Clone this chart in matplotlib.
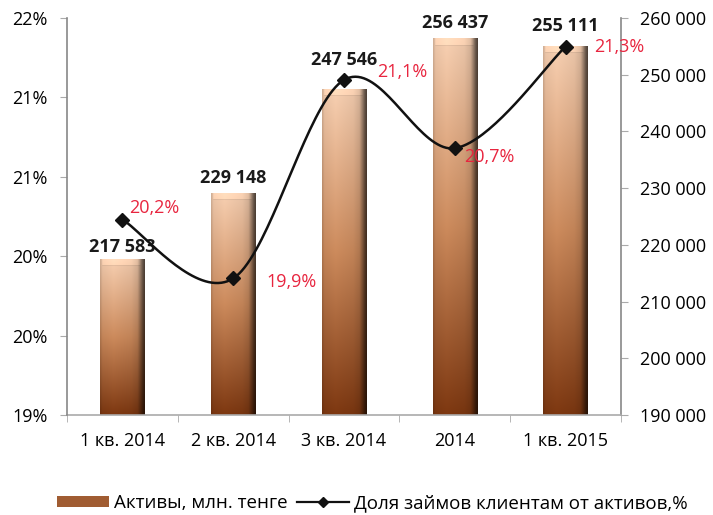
import numpy as np
import matplotlib
matplotlib.use('Agg')
from matplotlib import pyplot as plt
from matplotlib.lines import Line2D
from matplotlib.patches import Patch
from matplotlib.colors import to_rgb

# данные
categories = ['1 кв. 2014', '2 кв. 2014', '3 кв. 2014', '2014', '1 кв. 2015']
assets = [217583, 229148, 247546, 256437, 255111]
loan_share = [20.23, 19.86, 21.11, 20.68, 21.32]
pct_ticks = [19, 19.5, 20, 20.5, 21, 21.5]
pct_tick_labels = ['19%', '20%', '20%', '21%', '21%', '22%']
asset_ticks = [190000, 200000, 210000, 220000, 230000, 240000, 250000, 260000]

# подписи: смещения в пикселях
bar_lbl_dy = [1, 5, 18, 5, 9]
pct_lbl_off = [(32, 12), (58, -4), (58, 8), (35, -9), (54, 0)]

plt.rcParams['font.family'] = ['Open Sans', 'DejaVu Sans']
FS = 13

fig = plt.figure(figsize=(7.13, 5.15), dpi=100)
ax = fig.add_axes([67 / 713, 1 - 415 / 515, (621 - 67) / 713, (415 - 18) / 515])
axl = ax.twinx()
ax.yaxis.tick_right()
axl.yaxis.tick_left()

x = np.arange(len(categories))
ax.set_xlim(-0.5, 4.5)
ax.set_ylim(190000, 260000)
axl.set_ylim(19, 21.5)

# столбцы с градиентом
bars = ax.bar(x, [a - 190000 for a in assets], width=0.4, bottom=190000,
              color='none', edgecolor='none', zorder=2)

c_bot = np.array(to_rgb('#7a3610'))
c_mid = np.array(to_rgb('#c7875a'))
c_top = np.array(to_rgb('#f1cbae'))
u = np.linspace(0, 1, 60)
shade = np.interp(u, [0, 0.05, 0.3, 0.7, 0.84, 0.91, 0.96, 1.0],
                  [0.86, 0.98, 1.03, 0.97, 0.88, 0.62, 0.42, 0.32])

def bar_image(npx):
    n = max(int(npx), 12)
    t = np.linspace(0, 1, n)
    col = np.empty((n, 3))
    for k in range(3):
        col[:, k] = np.interp(t, [0, 0.5, 1], [c_bot[k], c_mid[k], c_top[k]])
    img = np.clip(col[:, None, :] * shade[None, :, None], 0, 1)
    # фаска сверху
    img[-7:, 3:-6, :] = np.clip(img[-7:, 3:-6, :] * 1.07, 0, 1)
    img[-8, 3:-6, :] = img[-8, 3:-6, :] * 0.93
    return img

for b in bars:
    x0, w = b.get_x(), b.get_width()
    y0, h = b.get_y(), b.get_height()
    im = ax.imshow(bar_image(h / 70000 * 397), extent=[x0, x0 + w, y0, y0 + h],
                   origin='lower', aspect='auto', zorder=2, interpolation='bilinear')
    im.set_clip_path(b)
ax.set_xlim(-0.5, 4.5)
ax.set_ylim(190000, 260000)

for xi, a, dy in zip(x, assets, bar_lbl_dy):
    ax.annotate(f'{a:,}'.replace(',', ' '), (xi, a), xytext=(0, dy * 0.72 + 1),
                textcoords='offset points', ha='center', va='bottom',
                fontsize=FS, fontweight='bold', color='#1a1a1a', zorder=5)

# сглаженная линия (кривая Безье как в Excel)
P = np.column_stack([x, loan_share]).astype(float)
Pext = np.vstack([P[0], P, P[-1]])
curve = []
s = np.linspace(0, 1, 40)[:, None]
for i in range(len(P) - 1):
    p0, p1 = Pext[i + 1], Pext[i + 2]
    c1 = p0 + (Pext[i + 2] - Pext[i]) / 6
    c2 = p1 - (Pext[i + 3] - Pext[i + 1]) / 6
    seg = ((1 - s) ** 3) * p0 + 3 * ((1 - s) ** 2) * s * c1 + 3 * (1 - s) * s ** 2 * c2 + s ** 3 * p1
    curve.append(seg)
curve = np.vstack(curve)
axl.plot(curve[:, 0], curve[:, 1], color='#111111', lw=1.8, zorder=3)
axl.plot(x, loan_share, ls='none', marker='D', ms=7, color='#111111', zorder=4)

for xi, v, (dx, dy) in zip(x, loan_share, pct_lbl_off):
    axl.annotate(f'{v:.1f}'.replace('.', ',') + '%', (xi, v),
                 xytext=(dx * 0.72, dy * 0.72), textcoords='offset points',
                 ha='center', va='center', fontsize=FS, color='#e8253f', zorder=5)

# оси
axl.set_yticks(pct_ticks)
axl.set_yticklabels(pct_tick_labels)
ax.set_yticks(asset_ticks)
ax.set_yticklabels([f'{v:,}'.replace(',', ' ') for v in asset_ticks])
ax.set_xticks(x)
ax.set_xticklabels(categories)
ax.set_xticks(np.arange(-0.5, 5, 1), minor=True)
ax.tick_params(axis='x', which='major', length=0, pad=12, labelsize=FS)
ax.tick_params(axis='x', which='minor', length=5, color='#aaaaaa', direction='out')
ax.tick_params(axis='y', length=5, color='#aaaaaa', pad=9, labelsize=FS)
axl.tick_params(axis='y', length=5, color='#aaaaaa', pad=9, labelsize=FS)

for a_ in (ax, axl):
    a_.spines['top'].set_visible(False)
ax.spines['left'].set_visible(False)
axl.spines['bottom'].set_visible(False)
axl.spines['right'].set_visible(False)
ax.spines['right'].set_color('#888888')
ax.spines['bottom'].set_color('#aaaaaa')
axl.spines['left'].set_color('#888888')
for sp in ('right', 'bottom'):
    ax.spines[sp].set_linewidth(1.2)
axl.spines['left'].set_linewidth(1.2)

# легенда
handles = [Patch(facecolor='#a05c32', edgecolor='none'),
           Line2D([0], [0], color='#111111', lw=1.6, marker='D', ms=5)]
fig.legend(handles, ['Активы, млн. тенге', 'Доля займов клиентам от активов,%'],
           loc='center', bbox_to_anchor=(0.522, 1 - 503 / 515), ncol=2,
           frameon=False, fontsize=13.5, handlelength=2.8, handleheight=0.5,
           handletextpad=0.25, columnspacing=0.5)

fig.savefig('out.png', dpi=100)
